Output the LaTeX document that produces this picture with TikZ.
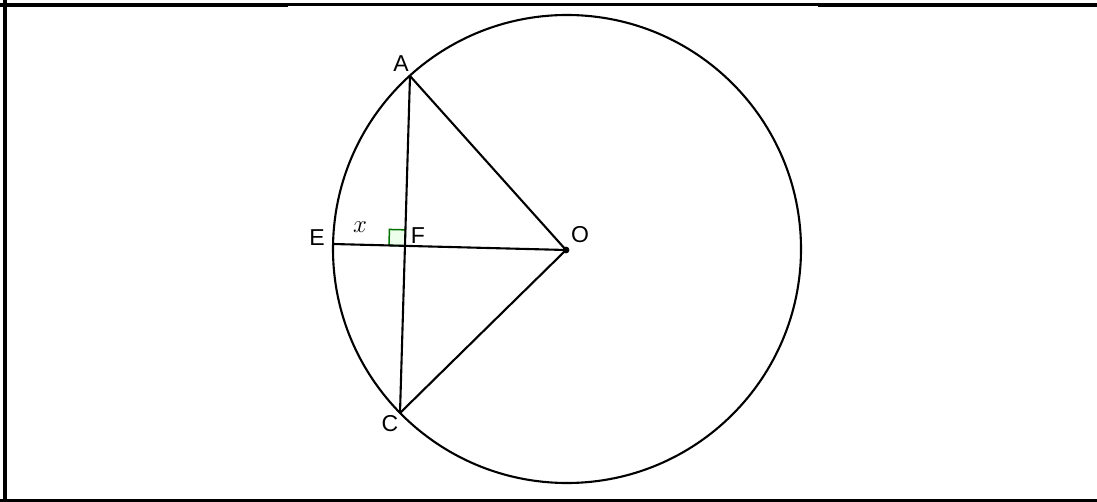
\documentclass[tikz,border=0pt]{standalone}
\usepackage{fontspec}
\setmainfont{Liberation Sans}
\usetikzlibrary{calc}
\begin{document}
\begin{tikzpicture}[x=1pt,y=-1pt,
  geo/.style={line width=2.1pt,black},
  lbl/.style={font=\fontsize{23}{25}\selectfont,inner sep=0pt},
  frameline/.style={black,line cap=butt}]
\useasboundingbox (0,0) rectangle (1097,502);
% frame
\draw[frameline,line width=4pt] (5.3,0) -- (5.3,502);
\draw[frameline,line width=4pt] (0,5.3) -- (288,5.3);
\draw[frameline,line width=2.7pt] (288,4.7) -- (818,4.7);
\draw[frameline,line width=4pt] (818,5.3) -- (1097,5.3);
\draw[frameline,line width=3.4pt] (0,500.3) -- (1097,500.3);
% points
\coordinate (O) at (566,250);
\coordinate (A) at (410,76);
\coordinate (C) at (400,413);
\coordinate (E) at (333,244);
\coordinate (F) at (intersection of A--C and E--O);
% right angle mark
\coordinate (F1) at ($(F)!16pt!(E)$);
\coordinate (F2) at ($(F)!16pt!(A)$);
\coordinate (F3) at ($(F1)+(F2)-(F)$);
\filldraw[draw=green!45!black,fill=green!8,line width=1.5pt] (F) -- (F1) -- (F3) -- (F2) -- cycle;
% circle
\draw[geo] (567,249) circle (234);
% segments
\draw[geo] (A) -- (C);
\draw[geo] (A) -- (O);
\draw[geo] (C) -- (O);
\draw[geo] (E) -- (O);
\fill (O) circle (3.4);
% labels
\node[lbl] (la) at (401,64) {A};
\node[lbl] (lc) at (390,424) {C};
\node[lbl] (le) at (317,238) {E};
\node[lbl] (lf) at (418,236) {F};
\node[lbl] (lo) at (580,235) {O};
\node[lbl] (lx) at (360,227) {$x$};
\end{tikzpicture}
\end{document}
